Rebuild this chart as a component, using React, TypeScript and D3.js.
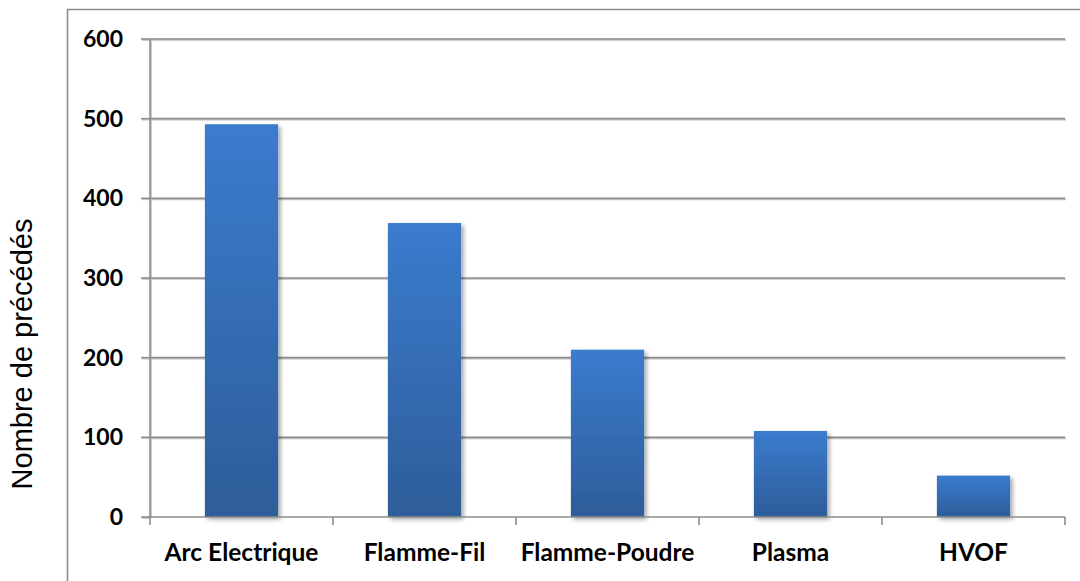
import React, { useEffect, useRef } from "react";
import * as d3 from "d3";

const categories = ["Arc Electrique", "Flamme-Fil", "Flamme-Poudre", "Plasma", "HVOF"];
const values = [493, 369, 210, 108, 52];
const yTicks = [0, 100, 200, 300, 400, 500, 600];
const yLabel = "Nombre de précédés";

export default function App() {
  const ref = useRef<SVGSVGElement | null>(null);

  useEffect(() => {
    const svg = d3.select(ref.current);
    svg.selectAll("*").remove();
    const W = 1080, H = 581;
    const left = 150, right = 1065, top = 39, bottom = 517;

    const x = d3.scaleBand<string>().domain(categories).range([left, right]).paddingInner(0.6).paddingOuter(0.3);
    const xb = d3.scaleBand<string>().domain(categories).range([left, right]);
    const y = d3.scaleLinear().domain([0, 600]).range([bottom, top]);

    const defs = svg.append("defs");
    const grad = defs.append("linearGradient").attr("id", "barGrad").attr("x1", 0).attr("y1", 0).attr("x2", 0).attr("y2", 1);
    grad.append("stop").attr("offset", "0%").attr("stop-color", "#3b7bce");
    grad.append("stop").attr("offset", "100%").attr("stop-color", "#2d5d99");
    const f = defs.append("filter").attr("id", "shadow").attr("x", "-20%").attr("y", "-20%").attr("width", "150%").attr("height", "150%");
    f.append("feDropShadow").attr("dx", 2.5).attr("dy", 2.5).attr("stdDeviation", 2).attr("flood-color", "#000").attr("flood-opacity", 0.35);
    const gf = defs.append("filter").attr("id", "gshadow").attr("x", "-5%").attr("y", "-200%").attr("width", "110%").attr("height", "500%");
    gf.append("feDropShadow").attr("dx", 1).attr("dy", 1).attr("stdDeviation", 0.6).attr("flood-color", "#000").attr("flood-opacity", 0.25);

    svg.append("rect").attr("x", 0).attr("y", 0).attr("width", W).attr("height", H).attr("fill", "#fff");

    // frame
    svg.append("path").attr("d", `M67.5,${H} V9.5 H${W}`).attr("fill", "none").attr("stroke", "#8c8c8c").attr("stroke-width", 1.6);

    // gridlines
    const gg = svg.append("g").attr("filter", "url(#gshadow)");
    gg.selectAll("line.grid").data(yTicks.filter(t => t > 0)).join("line")
      .attr("x1", left).attr("x2", right)
      .attr("y1", d => y(d)).attr("y2", d => y(d))
      .attr("stroke", "#8c8c8c").attr("stroke-width", 1.6);

    // y axis
    gg.append("line").attr("x1", left).attr("x2", left).attr("y1", top).attr("y2", bottom).attr("stroke", "#8c8c8c").attr("stroke-width", 1.6);
    gg.selectAll("line.yt").data(yTicks).join("line")
      .attr("x1", left - 9).attr("x2", left).attr("y1", d => y(d)).attr("y2", d => y(d))
      .attr("stroke", "#8c8c8c").attr("stroke-width", 1.6);

    // bars
    svg.append("g").selectAll("rect").data(categories).join("rect")
      .attr("x", d => x(d)!)
      .attr("width", x.bandwidth())
      .attr("y", (d, i) => y(values[i]))
      .attr("height", (d, i) => bottom - y(values[i]))
      .attr("fill", "url(#barGrad)")
      .attr("filter", "url(#shadow)");

    // x axis
    svg.append("line").attr("x1", left).attr("x2", right).attr("y1", bottom).attr("y2", bottom).attr("stroke", "#8c8c8c").attr("stroke-width", 1.6);
    const bounds = categories.map(c => xb(c)!).concat([right]);
    svg.selectAll("line.xt").data(bounds).join("line")
      .attr("x1", d => d).attr("x2", d => d).attr("y1", bottom).attr("y2", bottom + 8)
      .attr("stroke", "#8c8c8c").attr("stroke-width", 1.6);

    // y tick labels
    svg.append("g").selectAll("text").data(yTicks).join("text")
      .attr("x", 123).attr("y", d => y(d) + 8)
      .attr("text-anchor", "end")
      .attr("font-family", "Lato, 'Open Sans', sans-serif").attr("font-weight", 700).attr("font-size", 23)
      .attr("fill", "#000")
      .text(d => String(d));

    // x labels
    svg.append("g").selectAll("text").data(categories).join("text")
      .attr("x", d => xb(d)! + xb.bandwidth() / 2).attr("y", 561)
      .attr("text-anchor", "middle")
      .attr("font-family", "Lato, 'Open Sans', sans-serif").attr("font-weight", 700).attr("font-size", 24.5)
      .attr("fill", "#000")
      .text(d => d);

    // y label
    svg.append("text")
      .attr("transform", "translate(32,354) rotate(-90)")
      .attr("text-anchor", "middle")
      .attr("font-family", "'Liberation Sans', Arial, sans-serif").attr("font-size", 29)
      .attr("fill", "#000")
      .text(yLabel);
  }, []);

  return (
    <svg ref={ref} width={1080} height={581} style={{ position: "absolute", left: 0, top: 0 }} />
  );
}
